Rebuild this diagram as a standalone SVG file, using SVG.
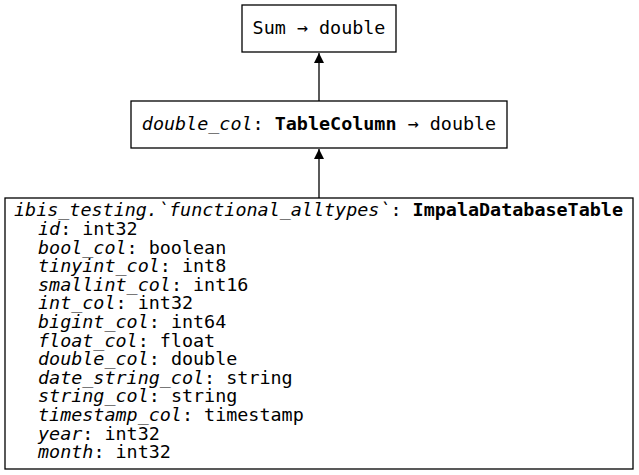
<svg xmlns="http://www.w3.org/2000/svg" width="639" height="475" viewBox="0 0 639 475">
<style>
.box{fill:#fff;stroke:#000;stroke-width:1.3}
text{font-family:"DejaVu Sans Mono","Liberation Mono",monospace;font-size:18.4px;fill:#000}
.c{text-anchor:middle}
.i{font-style:italic}
.b{font-weight:bold}
.edge{stroke:#000;stroke-width:1.3;fill:none}
</style>
<defs>
<marker id="ah" markerWidth="10" markerHeight="10" refX="10" refY="5" orient="auto" markerUnits="userSpaceOnUse">
<path d="M0,0 L10,5 L0,10 Z" fill="#000"/>
</marker>
</defs>
<rect width="639" height="475" fill="#fff"/>
<g id="connectors">
<line class="edge" x1="319" y1="101" x2="319" y2="53" marker-end="url(#ah)"/>
<line class="edge" x1="319" y1="198" x2="319" y2="149" marker-end="url(#ah)"/>
</g>
<g id="sum">
<rect class="box" x="242" y="5" width="154" height="47"/>
<text class="c" x="319" y="34">Sum → double</text>
</g>
<g id="tablecolumn">
<rect class="box" x="131" y="101" width="376" height="47"/>
<text class="c" x="319" y="130"><tspan class="i">double_col</tspan>: <tspan class="b">TableColumn</tspan> → double</text>
</g>
<g id="table">
<rect class="box" x="5" y="198" width="628" height="271"/>
<text x="14" y="216"><tspan class="i">ibis_testing.`functional_alltypes`</tspan>: <tspan class="b">ImpalaDatabaseTable</tspan></text>
<text x="38" y="235"><tspan class="i">id</tspan>: int32</text>
<text x="38" y="253.6"><tspan class="i">bool_col</tspan>: boolean</text>
<text x="38" y="272.2"><tspan class="i">tinyint_col</tspan>: int8</text>
<text x="38" y="290.8"><tspan class="i">smallint_col</tspan>: int16</text>
<text x="38" y="309.4"><tspan class="i">int_col</tspan>: int32</text>
<text x="38" y="328"><tspan class="i">bigint_col</tspan>: int64</text>
<text x="38" y="346.6"><tspan class="i">float_col</tspan>: float</text>
<text x="38" y="365.2"><tspan class="i">double_col</tspan>: double</text>
<text x="38" y="383.8"><tspan class="i">date_string_col</tspan>: string</text>
<text x="38" y="402.4"><tspan class="i">string_col</tspan>: string</text>
<text x="38" y="421"><tspan class="i">timestamp_col</tspan>: timestamp</text>
<text x="38" y="439.6"><tspan class="i">year</tspan>: int32</text>
<text x="38" y="458.2"><tspan class="i">month</tspan>: int32</text>
</g>
</svg>
